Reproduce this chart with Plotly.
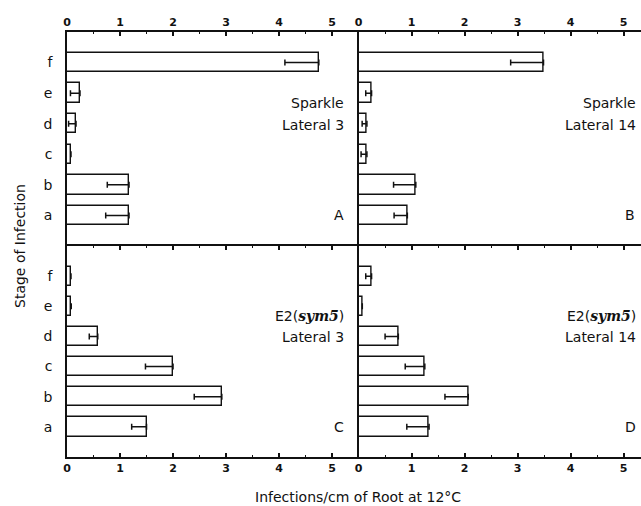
import plotly.graph_objects as go

stages = ["a", "b", "c", "d", "e", "f"]

sparkle_lat3 = [1.17, 1.17, 0.075, 0.17, 0.245, 4.75]
sparkle_lat3_err = [0.44, 0.41, 0.0, 0.14, 0.18, 0.64]

sparkle_lat14 = [0.92, 1.08, 0.157, 0.157, 0.245, 3.49]
sparkle_lat14_err = [0.25, 0.42, 0.11, 0.09, 0.11, 0.62]

e2_lat3 = [1.50, 2.92, 2.00, 0.58, 0.08, 0.075]
e2_lat3_err = [0.28, 0.52, 0.52, 0.16, 0.0, 0.0]

e2_lat14 = [1.33, 2.07, 1.25, 0.75, 0.07, 0.245]
e2_lat14_err = [0.42, 0.44, 0.37, 0.25, 0.0, 0.11]

SYM5 = "E2(<span style=\"font-family:'DejaVu Serif'\"><b><i>sym5</i></b></span>)"
panels = [
    (sparkle_lat3, sparkle_lat3_err, "Sparkle", "Lateral 3", "A"),
    (sparkle_lat14, sparkle_lat14_err, "Sparkle", "Lateral 14", "B"),
    (e2_lat3, e2_lat3_err, SYM5, "Lateral 3", "C"),
    (e2_lat14, e2_lat14_err, SYM5, "Lateral 14", "D"),
]

FONT = "DejaVu Sans"
INK = "#111111"
xsplit = 0.508
ysplit = 0.4965

fig = go.Figure()
annotations = []
for i, (vals, errs, l1, l2, letter) in enumerate(panels):
    n = i + 1
    xa = "x" if n == 1 else f"x{n}"
    ya = "y" if n == 1 else f"y{n}"
    minus = [e if e > 0 else None for e in errs]
    plus = [0 if e > 0 else None for e in errs]
    fig.add_trace(go.Bar(
        x=vals, y=stages, orientation="h", width=0.64,
        marker=dict(color="white", line=dict(color=INK, width=1.4)),
        error_x=dict(type="data", symmetric=False, array=plus,
                     arrayminus=minus, color=INK, thickness=1.5, width=3),
        xaxis=xa, yaxis=ya, showlegend=False, hoverinfo="skip",
    ))
    annotations += [
        dict(x=5.27, y=3.68, xref=xa, yref=ya, text=l1, showarrow=False,
             xanchor="right", yanchor="middle", font=dict(family=FONT, size=14, color=INK)),
        dict(x=5.27, y=2.97, xref=xa, yref=ya, text=l2, showarrow=False,
             xanchor="right", yanchor="middle", font=dict(family=FONT, size=14, color=INK)),
        dict(x=5.13, y=0, xref=xa, yref=ya, text=letter, showarrow=False,
             xanchor="center", yanchor="middle", font=dict(family=FONT, size=14, color=INK)),
    ]

def xaxis(domain, rng, side, mirror, anchor):
    return dict(domain=domain, range=rng, side=side, anchor=anchor,
                showticklabels=True, showline=True, linecolor=INK, linewidth=1.5,
                mirror=mirror, ticks="inside", ticklen=4, tickwidth=1.5, tickcolor=INK,
                dtick=1, tick0=0, showgrid=False, zeroline=False,
                minor=dict(dtick=0.5, ticks="inside", ticklen=2.5, tickwidth=1.2, tickcolor=INK),
                tickfont=dict(family=FONT, size=11, color=INK, weight="bold"))

def yaxis(domain, show_labels, anchor):
    return dict(domain=domain, range=[-1, 6], type="category", categoryorder="array",
                categoryarray=stages, anchor=anchor, showticklabels=show_labels,
                showline=True, linecolor=INK, linewidth=1.5, mirror=False,
                ticks="", showgrid=False, zeroline=False, ticklabelstandoff=10,
                tickfont=dict(family=FONT, size=14, color=INK))

L = [0, xsplit]
R = [xsplit, 1]
T = [ysplit, 1]
B = [0, ysplit]

W, H = 641, 506
ML, MR, MT, MB = 67, 0, 32, 49
pw, ph = W - ML - MR, H - MT - MB

fig.update_layout(
    width=W, height=H,
    margin=dict(l=ML, r=MR, t=MT, b=MB, pad=0),
    paper_bgcolor="white", plot_bgcolor="white",
    bargap=0,
    xaxis=xaxis(L, [0, 5.5], "top", False, "y"),
    yaxis=yaxis(T, True, "x"),
    xaxis2=xaxis(R, [0, 5.33], "top", False, "y2"),
    yaxis2=yaxis(T, False, "x2"),
    xaxis3=xaxis(L, [0, 5.5], "bottom", "ticks", "y3"),
    yaxis3=yaxis(B, True, "x3"),
    xaxis4=xaxis(R, [0, 5.33], "bottom", "ticks", "y4"),
    yaxis4=yaxis(B, False, "x4"),
    annotations=annotations + [
        dict(x=(20 - ML) / pw, y=(H - MB - 246) / ph, xref="paper", yref="paper",
             text="Stage of Infection", showarrow=False, textangle=-90,
             xanchor="center", yanchor="middle",
             font=dict(family=FONT, size=14, color=INK)),
        dict(x=(358 - ML) / pw, y=(H - MB - 497) / ph, xref="paper", yref="paper",
             text="Infections/cm of Root at 12°C", showarrow=False,
             xanchor="center", yanchor="middle",
             font=dict(family=FONT, size=14, color=INK)),
    ],
)

fig.write_html("out.html", config={"displayModeBar": False},
               post_script="document.body.style.margin='0';document.body.style.overflow='hidden';")
